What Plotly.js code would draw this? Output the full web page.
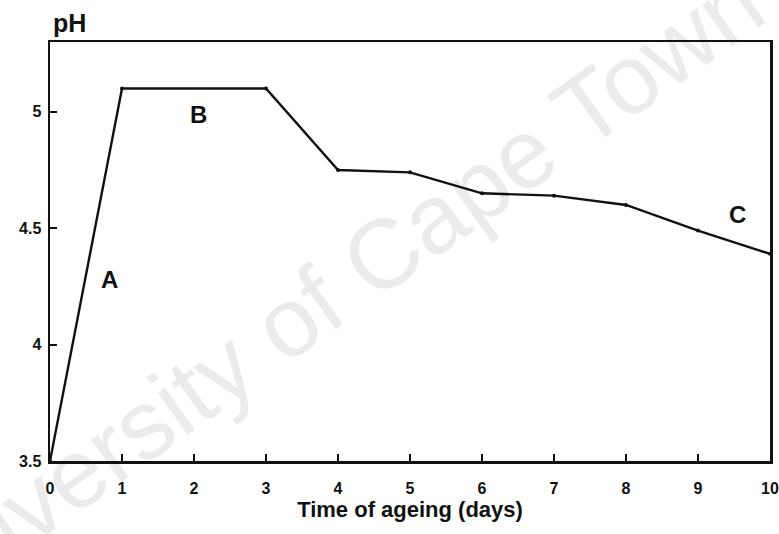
<!DOCTYPE html>
<html>
<head>
<meta charset="utf-8">
<script src="https://cdn.plot.ly/plotly-3.0.1.min.js"></script>
<style>
  html, body { margin: 0; padding: 0; background: #ffffff; }
  #wrap { position: relative; width: 779px; height: 534px; overflow: hidden; }
  #stamp {
    position: absolute; left: 322px; top: 298px;
    transform: translate(-50%, -50%) rotate(-35.5deg);
    font-family: "Liberation Sans", Arial, sans-serif;
    font-size: 98px; color: #ebebeb; white-space: nowrap;
  }
  #chart { position: absolute; left: 0; top: 0; width: 779px; height: 534px; }
</style>
</head>
<body>
<div id="wrap">
  <div id="stamp">University of Cape Town</div>
  <div id="chart"></div>
</div>
<script>
// Time of ageing (days) and measured pH
const days = [0, 1, 3, 4, 5, 6, 7, 8, 9, 10];
const pH   = [3.5, 5.10, 5.10, 4.75, 4.74, 4.65, 4.64, 4.60, 4.49, 4.39];

// Stage labels along the curve
const stageNames = ['A', 'B', 'C'];
const stageX = [0.82, 2.06, 9.55];
const stageY = [4.28, 4.99, 4.56];

const xTicks = [0, 1, 2, 3, 4, 5, 6, 7, 8, 9, 10];
const yTicks = [3.5, 4, 4.5, 5];
const yTickText = ['3.5', '4', '4.5', '5'];

const ink = '#111111';
const boldFont = (size) => ({ family: 'Liberation Sans, Arial, sans-serif', size: size, color: ink, weight: 'bold' });

const trace = {
  x: days, y: pH,
  type: 'scatter', mode: 'lines+markers',
  line: { color: ink, width: 2.4 },
  marker: { color: ink, size: 4 },
  cliponaxis: false,
  hoverinfo: 'skip'
};

const annotations = stageNames.map((t, i) => ({
  x: stageX[i], y: stageY[i], xref: 'x', yref: 'y',
  text: t, showarrow: false, font: boldFont(24),
  xanchor: 'center', yanchor: 'middle'
}));
annotations.push({
  x: 0.002, y: 1.045, xref: 'paper', yref: 'paper',
  text: 'pH', showarrow: false, font: boldFont(25),
  xanchor: 'left', yanchor: 'middle'
});

const layout = {
  width: 779, height: 534,
  margin: { l: 50, r: 9, t: 42, b: 73 },
  paper_bgcolor: 'rgba(0,0,0,0)',
  plot_bgcolor: 'rgba(0,0,0,0)',
  showlegend: false,
  xaxis: {
    range: [0, 10],
    tickvals: xTicks,
    ticktext: xTicks.map(String),
    ticks: 'inside', ticklen: 7, tickwidth: 2, tickcolor: ink,
    showline: true, linecolor: ink, linewidth: 2.5, mirror: true,
    showgrid: false, zeroline: false,
    tickfont: boldFont(16),
    ticklabelstandoff: 11,
    title: { text: 'Time of ageing (days)', font: boldFont(22), standoff: 4 }
  },
  yaxis: {
    range: [3.5, 5.3],
    tickvals: yTicks,
    ticktext: yTickText,
    ticks: 'inside', ticklen: 7, tickwidth: 2, tickcolor: ink,
    showline: true, linecolor: ink, linewidth: 2.5, mirror: true,
    showgrid: false, zeroline: false,
    tickfont: boldFont(16),
    ticklabelstandoff: 3
  },
  annotations: annotations
};

Plotly.newPlot('chart', [trace], layout, { displayModeBar: false, staticPlot: true });
</script>
</body>
</html>
